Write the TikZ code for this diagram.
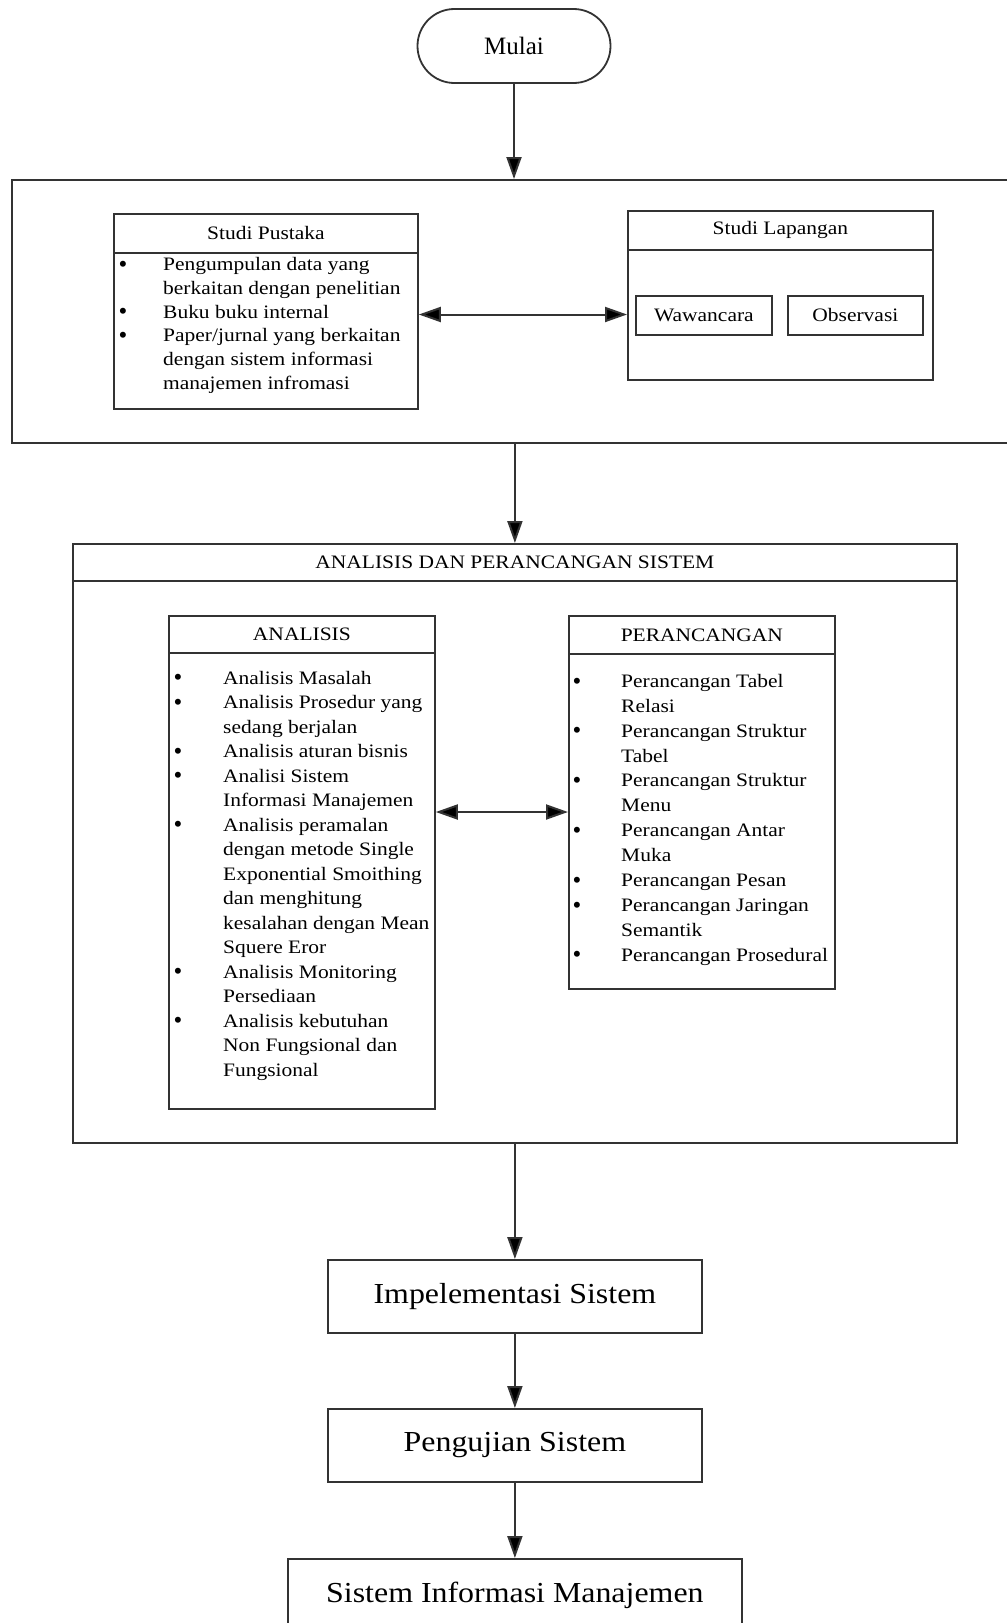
\documentclass[tikz,border=0pt]{standalone}
\usepackage{fontspec}
\setmainfont{Liberation Serif}
\newfontfamily\smfont[FakeStretch=1.13]{Liberation Serif}
\newfontfamily\bgfont[FakeStretch=1.1]{Liberation Serif}
\usetikzlibrary{arrows.meta,calc}
\begin{document}
\begin{tikzpicture}[x=1pt,y=-1pt,
  box/.style={draw=black!80, line width=1.8pt, rectangle, inner sep=0pt, anchor=north west},
  sm/.style={font=\smfont\fontsize{19}{22}\selectfont, text=black, inner sep=0pt},
  bul/.style={font=\fontsize{25}{25}\selectfont, text=black, inner sep=0pt, anchor=base, text height=9pt, text depth=0pt},
  bg/.style={font=\bgfont\fontsize{29}{34}\selectfont, text=black},
  arr/.style={draw=black!80, line width=2pt, -{Triangle[length=22pt,width=15pt,fill=black]}},
  darr/.style={draw=black!80, line width=2pt, {Triangle[length=22pt,width=15pt,fill=black]}-{Triangle[length=22pt,width=15pt,fill=black]}}
]
\useasboundingbox[fill=white] (0,0) rectangle (1007,1623);

% Start
\node[draw=black!80, line width=1.8pt, rounded corners=36.9pt, minimum width=193pt, minimum height=74pt, inner sep=0pt,
      font=\fontsize{25}{30}\selectfont, text=black] (mulai) at (514,46) {Mulai};

% Stage 1
\node[box, minimum width=1006pt, minimum height=263pt] (outer1) at (11,179) {};
\node[box, minimum width=304pt, minimum height=195pt] (sp) at (113,213) {};
\node[box, sm, minimum width=304pt, minimum height=39pt] (spt) at (113,213) {Studi Pustaka};
\node[box, minimum width=305pt, minimum height=169pt] (sl) at (627,210) {};
\node[box, sm, minimum width=305pt, minimum height=39pt] (slt) at (627,210) {Studi Lapangan};
\node[box, sm, minimum width=136pt, minimum height=39pt] (waw) at (635,295) {Wawancara};
\node[box, sm, minimum width=135pt, minimum height=39pt] (obs) at (787,295) {Observasi};

\foreach \t [count=\i] in {Pengumpulan data yang, berkaitan dengan penelitian, Buku buku internal,
   Paper/jurnal yang berkaitan, dengan sistem informasi, manajemen infromasi}
  \node[sm, anchor=base west] (spl\i) at (163,{270.5+23.8*(\i-1)}) {\t};
\foreach \i in {1,3,4}
  \node[bul] (spb\i) at (123,{272+23.8*(\i-1)}) {•};

% Stage 2
\node[box, minimum width=884pt, minimum height=599pt] (box2) at (72,543) {};
\node[box, sm, minimum width=884pt, minimum height=37pt] (box2t) at (72,543) {ANALISIS DAN PERANCANGAN SISTEM};
\node[box, minimum width=266pt, minimum height=493pt] (an) at (168,615) {};
\node[box, sm, minimum width=266pt, minimum height=37pt] (ant) at (168,615) {ANALISIS};
\node[box, minimum width=266pt, minimum height=373pt] (pe) at (568,615) {};
\node[box, sm, minimum width=266pt, minimum height=38pt] (pet) at (568,615) {PERANCANGAN};

\foreach \t [count=\i] in {Analisis Masalah, Analisis Prosedur yang, sedang berjalan, Analisis aturan bisnis,
   Analisi Sistem, Informasi Manajemen, Analisis peramalan, dengan metode Single,
   Exponential Smoithing, dan menghitung, kesalahan dengan Mean, Squere Eror,
   Analisis Monitoring, Persediaan, Analisis kebutuhan, Non Fungsional dan, Fungsional}
  \node[sm, anchor=base west] (anl\i) at (223,{684+24.5*(\i-1)}) {\t};
\foreach \i in {1,2,4,5,7,13,15}
  \node[bul] (anb\i) at (178,{685.5+24.5*(\i-1)}) {•};

\foreach \t [count=\i] in {Perancangan Tabel, Relasi, Perancangan Struktur, Tabel,
   Perancangan Struktur, Menu, Perancangan Antar, Muka, Perancangan Pesan,
   Perancangan Jaringan, Semantik, Perancangan Prosedural}
  \node[sm, anchor=base west] (pel\i) at (621,{687.3+24.9*(\i-1)}) {\t};
\foreach \i in {1,3,5,7,9,10,12}
  \node[bul] (peb\i) at (577,{689+24.9*(\i-1)}) {•};

% Later stages
\node[box, bg, minimum width=374pt, minimum height=73pt] (impl) at (327,1259) {Impelementasi Sistem};
\node[box, bg, minimum width=374pt, minimum height=73pt] (peng) at (327,1408) {Pengujian Sistem};
\node[box, bg, minimum width=454pt, minimum height=73pt] (sim) at (287,1558) {Sistem Informasi Manajemen};

% Connectors
\coordinate (m1) at (500,314.5);
\coordinate (m2) at (500,812);
\draw[arr] (mulai.south) -- (mulai.south |- outer1.north);
\draw[arr] (outer1.south) -- (outer1.south |- box2.north);
\draw[arr] (box2.south) -- (impl.north);
\draw[arr] (impl.south) -- (peng.north);
\draw[arr] (peng.south) -- (sim.north);
\draw[darr] (sp.east |- m1) -- (sl.west |- m1);
\draw[darr] (an.east |- m2) -- (pe.west |- m2);
\end{tikzpicture}
\end{document}
